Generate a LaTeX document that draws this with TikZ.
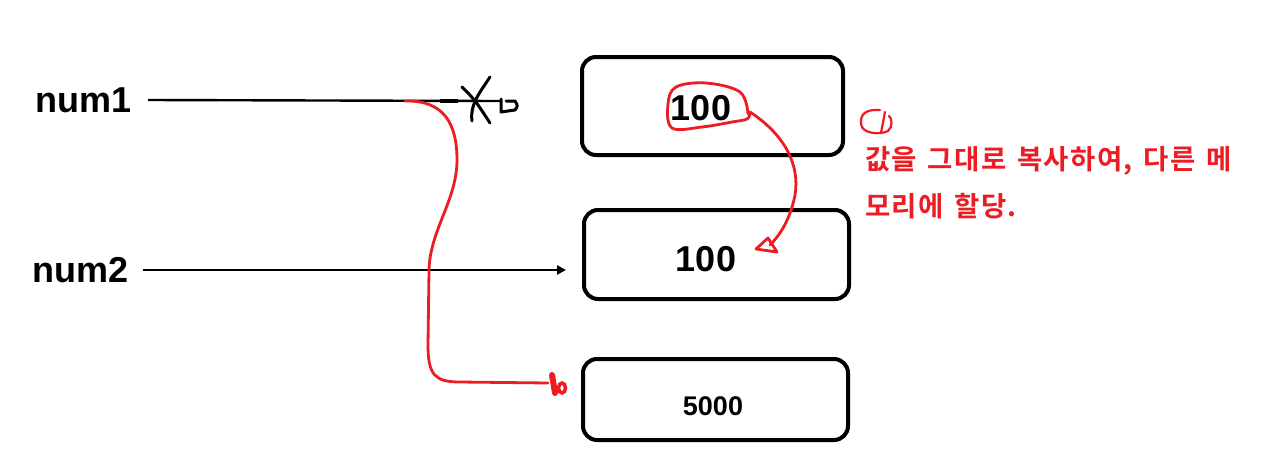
\documentclass[tikz,border=0pt]{standalone}
\usepackage{fontspec}
\setmainfont{Liberation Sans}
\newfontfamily\kr{Noto Sans CJK KR Bold}[LetterSpace=5,WordSpace=1.4]
\usetikzlibrary{arrows.meta}
\definecolor{pred}{RGB}{237,28,36}
\begin{document}
\begin{tikzpicture}[x=1pt,y=-1pt,
  membox/.style={draw, line width=4pt, rounded corners=14pt, inner sep=0pt},
  lbl/.style={font=\fontsize{36}{40}\selectfont\bfseries, inner sep=0pt},
  conn/.style={line width=2.4pt, black},
  redline/.style={line width=2.8pt, pred, line cap=round, line join=round},
  krtext/.style={font=\kr\fontsize{27.5}{30}\selectfont, text=pred, inner sep=0pt, anchor=base west}]
\useasboundingbox (0,0) rectangle (1267,472);
\fill[white] (0,0) rectangle (1267,472);

% memory boxes
\node[membox, minimum width=261pt, minimum height=98pt] (b1) at (712.5,106) {};
\node[membox, minimum width=265pt, minimum height=89pt] (b2) at (716.5,254.5) {};
\node[membox, minimum width=265pt, minimum height=81pt] (b3) at (715.5,399.5) {};

\node[lbl] (v1) at (701,108) {100};
\node[lbl] (v2) at (706,259) {100};
\node[lbl, font=\fontsize{27}{30}\selectfont\bfseries] (v3) at (713,406) {5000};

% variable labels
\node[lbl] (num1) at (84,100) {num1};
\node[lbl] (num2) at (81,270) {num2};

% num1 line (cut)
\coordinate (end1) at (500,101);
\coordinate (split) at (405,101);
\draw[conn] (num1.east) ++(16,0) -- (end1);
\draw[line width=4.5pt] (440,101) -- (458,101);
\draw[line width=3pt, line cap=round] (462,87) .. controls (475,100) .. (490,123);
\draw[line width=3pt, line cap=round] (490,77) .. controls (478,95) and (470,105) .. (472,121);
\draw[line width=3pt, line cap=round, line join=round] (501,99) -- (501,112) -- (515,110) .. controls (518,106) .. (515,101) -- (506,101);

% num2 line
\draw[conn, -{Triangle[length=9pt,width=9pt]}, shorten >=16pt] (num2.east) ++(14,0) -- (b2.west |- num2.east);

% red reassignment curve
\draw[redline] (split) .. controls (445,100) and (457,125) .. (457,160)
  .. controls (457,200) and (430,230) .. (429,270) -- (428,345)
  .. controls (428,375) and (435,382) .. (460,382) -- (548,383);
\draw[pred, line width=6pt, line cap=round] (552,375) -- (555,393);
\draw[pred, line width=3.5pt] (562,388) ellipse (3.5pt and 5pt);

% lasso around first 100
\draw[redline] plot[smooth, tension=0.6] coordinates {(748,114) (740,92) (706,83) (676,87) (668,104) (672,128) (702,127) (732,122) (747,119) (750,113)};
% copy arrow
\draw[redline] (750,112) .. controls (785,135) and (800,165) .. (795,195)
  .. controls (790,220) and (780,235) .. (770,245);
\draw[redline] (756,249) -- (777,252) -- (768,238) -- cycle;

% circled 1
\draw[pred, line width=2.2pt, line cap=round] (880,110) .. controls (866,109) and (860,114) .. (861,124)
  .. controls (862,134) and (880,135) .. (888,131) .. controls (893,127) and (892,118) .. (889,116);
\draw[pred, line width=2.2pt, line cap=round] (885,112) -- (881,133);

% explanation
\node[krtext] (t1) at (865,169) {값을 그대로 복사하여, 다른 메};
\node[krtext] (t2) at (865,216) {모리에 할당.};
\end{tikzpicture}
\end{document}
